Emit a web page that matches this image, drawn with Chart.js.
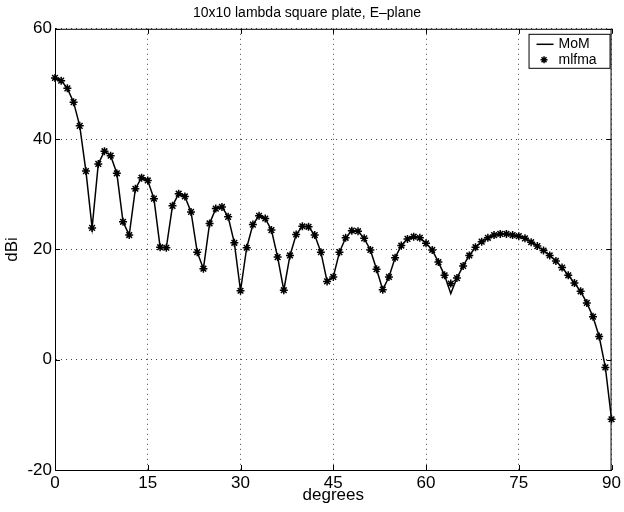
<!DOCTYPE html>
<html>
<head>
<meta charset="utf-8">
<title>10x10 lambda square plate, E-plane</title>
<script src="https://cdn.jsdelivr.net/npm/chart.js@4/dist/chart.umd.min.js"></script>
<style>
  body { margin: 0; background: #fff; }
  canvas { display: block; }
</style>
</head>
<body>
<canvas id="patternChart" width="624" height="512"></canvas>
<script>
// observation angles (degrees)
const angles = [
  0, 1, 2, 3, 4, 5, 6, 7, 8, 9,
  10, 11, 12, 13, 14, 15, 16, 17, 18, 19,
  20, 21, 22, 23, 24, 25, 26, 27, 28, 29,
  30, 31, 32, 33, 34, 35, 36, 37, 38, 39,
  40, 41, 42, 43, 44, 45, 46, 47, 48, 49,
  50, 51, 52, 53, 54, 55, 56, 57, 58, 59,
  60, 61, 62, 63, 64, 65, 66, 67, 68, 69,
  70, 71, 72, 73, 74, 75, 76, 77, 78, 79,
  80, 81, 82, 83, 84, 85, 86, 87, 88, 89,
  90
];

// mlfma result (dBi)
const mlfmaValues = [
  51.1, 50.6, 49.2, 46.7, 42.4, 34.2, 23.9, 35.5, 37.8, 37.0,
  33.8, 25.0, 22.6, 31.0, 33.0, 32.5, 29.2, 20.4, 20.3, 27.9,
  30.1, 29.6, 26.8, 19.5, 16.5, 24.7, 27.4, 27.7, 25.9, 21.2,
  12.5, 20.3, 24.5, 26.1, 25.6, 23.5, 18.6, 12.6, 18.9, 22.7,
  24.2, 24.1, 22.6, 19.5, 14.2, 15.0, 19.5, 22.1, 23.4, 23.3,
  22.0, 19.9, 16.4, 12.7, 15.0, 18.5, 20.7, 21.9, 22.3, 22.1,
  21.1, 19.9, 17.7, 15.3, 13.8, 14.8, 17.0, 18.9, 20.4, 21.4,
  22.1, 22.6, 22.8, 22.8, 22.6, 22.4, 22.0, 21.3, 20.6, 19.8,
  18.9, 17.9, 16.7, 15.3, 13.9, 12.4, 10.3, 7.8, 4.2, -1.4,
  -10.8
];

// MoM reference (dBi), solid line
const momValues = [
  51.1, 50.6, 49.2, 46.7, 42.4, 34.2, 23.9, 35.5, 37.8, 37.0,
  33.8, 25.0, 22.6, 31.0, 33.0, 32.5, 29.2, 20.4, 20.3, 27.9,
  30.1, 29.6, 26.8, 19.5, 16.5, 24.7, 27.4, 27.7, 25.9, 21.2,
  12.5, 20.3, 24.5, 26.1, 25.6, 23.5, 18.6, 12.6, 18.9, 22.7,
  24.2, 24.1, 22.6, 19.5, 14.2, 15.0, 19.5, 22.1, 23.4, 23.3,
  22.0, 19.9, 16.4, 12.7, 15.0, 18.5, 20.7, 21.9, 22.3, 22.1,
  21.1, 19.9, 17.7, 15.3, 12.0, 14.8, 17.0, 18.9, 20.4, 21.4,
  22.1, 22.6, 22.8, 22.8, 22.6, 22.4, 22.0, 21.3, 20.6, 19.8,
  18.9, 17.9, 16.7, 15.3, 13.9, 12.4, 10.3, 7.8, 4.2, -1.4,
  -10.8
];

const xTicks = [0, 15, 30, 45, 60, 75, 90];
const yTicks = [-20, 0, 20, 40, 60];

const FONT = '"Liberation Sans", Arial, Helvetica, sans-serif';

// box round the plot plus inward tick marks on all four sides (matlab look)
const frameTicks = {
  id: 'frameTicks',
  afterDraw(chart) {
    const { ctx, chartArea: a, scales } = chart;
    const len = 5;
    ctx.save();
    ctx.strokeStyle = '#000';
    ctx.lineWidth = 1;
    ctx.strokeRect(a.left + 0.5, a.top + 0.5, a.right - a.left - 1, a.bottom - a.top);
    ctx.beginPath();
    xTicks.forEach(v => {
      const px = Math.round(scales.x.getPixelForValue(v)) + 0.5;
      ctx.moveTo(px, a.bottom); ctx.lineTo(px, a.bottom - len);
      ctx.moveTo(px, a.top); ctx.lineTo(px, a.top + len);
    });
    yTicks.forEach(v => {
      const py = Math.round(scales.y.getPixelForValue(v)) + 0.5;
      ctx.moveTo(a.left, py); ctx.lineTo(a.left + len, py);
      ctx.moveTo(a.right, py); ctx.lineTo(a.right - len, py);
    });
    ctx.stroke();
    ctx.restore();
  }
};

// legend box in the upper right corner
const boxLegend = {
  id: 'boxLegend',
  afterDraw(chart) {
    const { ctx, chartArea: a } = chart;
    const ds = chart.data.datasets;
    const w = 81, h = 34;
    const x0 = a.right - w - 2, y0 = a.top + 5;
    ctx.save();
    ctx.fillStyle = '#fff';
    ctx.fillRect(x0, y0, w, h);
    ctx.strokeStyle = '#000';
    ctx.lineWidth = 1;
    ctx.strokeRect(x0 + 0.5, y0 + 0.5, w, h);
    // line sample
    ctx.lineWidth = 1.5;
    ctx.beginPath();
    ctx.moveTo(x0 + 8, y0 + 10.5);
    ctx.lineTo(x0 + 25, y0 + 10.5);
    ctx.stroke();
    // marker sample
    Chart.helpers.drawPoint(ctx, { pointStyle: 'star', radius: 3.5, borderWidth: 1.5, rotation: 0 }, x0 + 15.5, y0 + 26);
    ctx.fillStyle = '#000';
    ctx.font = '14px ' + FONT;
    ctx.textBaseline = 'middle';
    ctx.fillText(ds[0].label, x0 + 30, y0 + 10);
    ctx.fillText(ds[1].label, x0 + 30, y0 + 26);
    ctx.restore();
  }
};

const ctx = document.getElementById('patternChart').getContext('2d');

const patternChart = new Chart(ctx, {
  type: 'line',
  data: {
    datasets: [{
      label: 'MoM',
      data: angles.map((a, i) => ({ x: a, y: momValues[i] })),
      borderColor: '#000',
      borderWidth: 1.5,
      pointRadius: 0,
      tension: 0,
      fill: false,
    }, {
      label: 'mlfma',
      data: angles.map((a, i) => ({ x: a, y: mlfmaValues[i] })),
      showLine: false,
      pointStyle: 'star',
      pointRadius: 4,
      pointBorderWidth: 1.5,
      pointBorderColor: '#000',
      pointBackgroundColor: '#000',
      clip: false,
    }],
  },
  options: {
    responsive: false,
    animation: false,
    devicePixelRatio: 1,
    layout: { padding: { left: 0, right: 10, top: 0, bottom: 0 } },
    plugins: {
      legend: { display: false },
      tooltip: { enabled: false },
      title: {
        display: true,
        text: '10x10 lambda square plate, E\u2013plane',
        color: '#000',
        font: { family: FONT, size: 14, weight: 'normal' },
        padding: { top: 5, bottom: 7 },
      },
    },
    scales: {
      x: {
        type: 'linear',
        min: 0,
        max: 90,
        afterBuildTicks: s => { s.ticks = xTicks.map(v => ({ value: v })); },
        afterFit: s => { s.height = 42; },
        ticks: { color: '#000', font: { family: FONT, size: 17 }, padding: 3, maxRotation: 0 },
        grid: { color: '#444', lineWidth: 1, drawTicks: false },
        border: { display: true, color: '#000', width: 1, dash: [1, 4] },
        title: {
          display: true, text: 'degrees', color: '#000',
          font: { family: FONT, size: 17 }, padding: { top: 0, bottom: 6 },
        },
      },
      y: {
        type: 'linear',
        min: -20,
        max: 60,
        afterBuildTicks: s => { s.ticks = yTicks.map(v => ({ value: v })); },
        afterFit: s => { s.width = 55; },
        ticks: { color: '#000', font: { family: FONT, size: 17 }, padding: 3 },
        grid: { color: '#444', lineWidth: 1, drawTicks: false },
        border: { display: true, color: '#000', width: 1, dash: [1, 4] },
        title: {
          display: true, text: 'dBi', color: '#000',
          font: { family: FONT, size: 17 }, padding: { top: 2, bottom: 0 },
        },
      },
    },
  },
  plugins: [frameTicks, boxLegend],
});
</script>
</body>
</html>
